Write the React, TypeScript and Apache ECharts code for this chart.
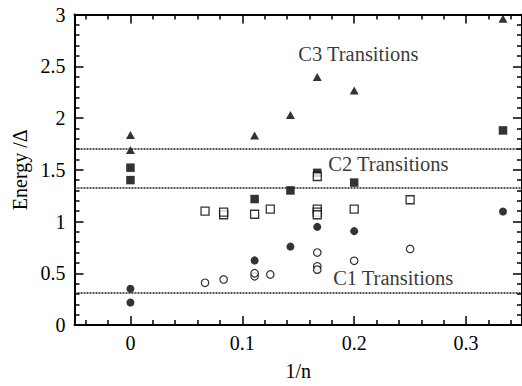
import React, { useEffect, useRef } from "react";
import * as echarts from "echarts";

// Excitation energies (in units of Δ) versus 1/n
const c3Triangles: [number, number][] = [
  [0, 1.836], [0, 1.69], [0.111, 1.83], [0.143, 2.03],
  [0.167, 2.395], [0.2, 2.265], [0.333, 2.96],
];
const c2Filled: [number, number][] = [
  [0, 1.52], [0, 1.4], [0.111, 1.217], [0.143, 1.3],
  [0.167, 1.47], [0.2, 1.376], [0.333, 1.88],
];
const c2Open: [number, number][] = [
  [0.0667, 1.1], [0.0833, 1.065], [0.0833, 1.09], [0.111, 1.07],
  [0.125, 1.12], [0.167, 1.435], [0.167, 1.12], [0.167, 1.09],
  [0.167, 1.065], [0.2, 1.12], [0.25, 1.21],
];
const c1Filled: [number, number][] = [
  [0, 0.35], [0, 0.217], [0.111, 0.624], [0.143, 0.757],
  [0.167, 0.948], [0.2, 0.907], [0.333, 1.097],
];
const c1Open: [number, number][] = [
  [0.0667, 0.408], [0.0833, 0.44], [0.111, 0.47], [0.111, 0.5],
  [0.125, 0.488], [0.167, 0.7], [0.167, 0.567], [0.167, 0.535],
  [0.2, 0.62], [0.25, 0.735],
];

// Threshold energies drawn as dotted horizontal lines
const thresholds = [0.312, 1.335, 1.703];

// Region captions
const captions: { name: string; value: [number, number] }[] = [
  { name: "C3 Transitions", value: [0.2037, 2.614] },
  { name: "C2 Transitions", value: [0.2306, 1.56] },
  { name: "C1 Transitions", value: [0.2349, 0.455] },
];

// Axis ticks
const xMajorTicks = [0, 0.1, 0.2, 0.3];
const xMinorTicks = [
  -0.04, -0.02, 0.02, 0.04, 0.06, 0.08, 0.12, 0.14, 0.16, 0.18,
  0.22, 0.24, 0.26, 0.28, 0.32, 0.34,
];

const FONT = '"Liberation Serif", "Times New Roman", serif';
const X_MIN = -0.05;
const X_MAX = 0.35;

export default function App() {
  const ref = useRef<HTMLDivElement>(null);

  useEffect(() => {
    if (!ref.current) return;
    const chart = echarts.init(ref.current, null, { renderer: "svg" });

    const axisLine = { show: true, onZero: false, lineStyle: { color: "#000", width: 2 } };
    const majorX = (position: "bottom" | "top", labels: boolean) => ({
      type: "value",
      min: X_MIN,
      max: X_MAX,
      position,
      axisLine,
      splitLine: { show: false },
      axisTick: {
        show: true,
        inside: true,
        length: 9,
        customValues: xMajorTicks,
        lineStyle: { color: "#000", width: 1.5 },
      },
      axisLabel: labels
        ? {
            show: true,
            customValues: xMajorTicks,
            fontSize: 20,
            fontFamily: FONT,
            color: "#000",
            margin: 8,
          }
        : { show: false },
    });
    const minorX = (position: "bottom" | "top") => ({
      type: "value",
      min: X_MIN,
      max: X_MAX,
      position,
      axisLine: { show: false, onZero: false },
      splitLine: { show: false },
      axisTick: {
        show: true,
        inside: true,
        length: 5,
        customValues: xMinorTicks,
        lineStyle: { color: "#000", width: 1.5 },
      },
      axisLabel: { show: false },
    });
    const yAx = (position: "left" | "right", labels: boolean) => ({
      type: "value",
      min: 0,
      max: 3,
      interval: 0.5,
      position,
      axisLine,
      splitLine: { show: false },
      minorSplitLine: { show: false },
      axisTick: { show: true, inside: true, length: 9, lineStyle: { color: "#000", width: 1.5 } },
      minorTick: { show: true, splitNumber: 5, length: 5, lineStyle: { color: "#000", width: 1.5 } },
      axisLabel: labels
        ? { show: true, fontSize: 20, fontFamily: FONT, color: "#000", margin: 9 }
        : { show: false },
    });

    const xAxes: any[] = [majorX("bottom", true), majorX("top", false), minorX("bottom"), minorX("top")];
    Object.assign(xAxes[0], {
      name: "1/n",
      nameLocation: "middle",
      nameGap: 36,
      nameTextStyle: { fontSize: 20, fontFamily: FONT, color: "#000" },
    });
    const yAxes: any[] = [yAx("left", true), yAx("right", false)];
    Object.assign(yAxes[0], {
      name: "Energy /Δ",
      nameLocation: "middle",
      nameGap: 41,
      nameRotate: 90,
      nameTextStyle: { fontSize: 20, fontFamily: FONT, color: "#000" },
    });

    const filled = { color: "#000" };
    const open = { color: "#fff", borderColor: "#000", borderWidth: 1.3 };

    chart.setOption({
      animation: false,
      backgroundColor: "#fff",
      grid: { left: 74.5, top: 14.5, width: 451, height: 315, containLabel: false },
      xAxis: xAxes,
      yAxis: yAxes,
      series: [
        {
          type: "scatter",
          data: [],
          silent: true,
          markLine: {
            silent: true,
            symbol: "none",
            label: { show: false },
            lineStyle: { color: "#222", width: 1.5, type: [2, 1] },
            data: thresholds.map((y) => ({ yAxis: y })),
          },
        },
        { type: "scatter", data: c3Triangles, symbol: "triangle", symbolSize: [9, 8], itemStyle: filled },
        { type: "scatter", data: c2Filled, symbol: "rect", symbolSize: 8.5, itemStyle: filled },
        { type: "scatter", data: c2Open, symbol: "rect", symbolSize: 8, itemStyle: open },
        { type: "scatter", data: c1Filled, symbol: "circle", symbolSize: 8, itemStyle: filled },
        { type: "scatter", data: c1Open, symbol: "circle", symbolSize: 7.5, itemStyle: { ...open, borderWidth: 1.2 } },
        {
          type: "scatter",
          data: captions,
          symbolSize: 0,
          silent: true,
          itemStyle: { color: "transparent" },
          label: {
            show: true,
            position: "inside",
            formatter: (p: any) => p.name,
            fontSize: 20.5,
            fontFamily: FONT,
            color: "#000",
            textBorderWidth: 0,
          },
        },
      ],
    });

    return () => chart.dispose();
  }, []);

  return (
    <div
      ref={ref}
      style={{ position: "fixed", left: 0, top: 0, width: 522, height: 386, background: "#fff" }}
    />
  );
}
